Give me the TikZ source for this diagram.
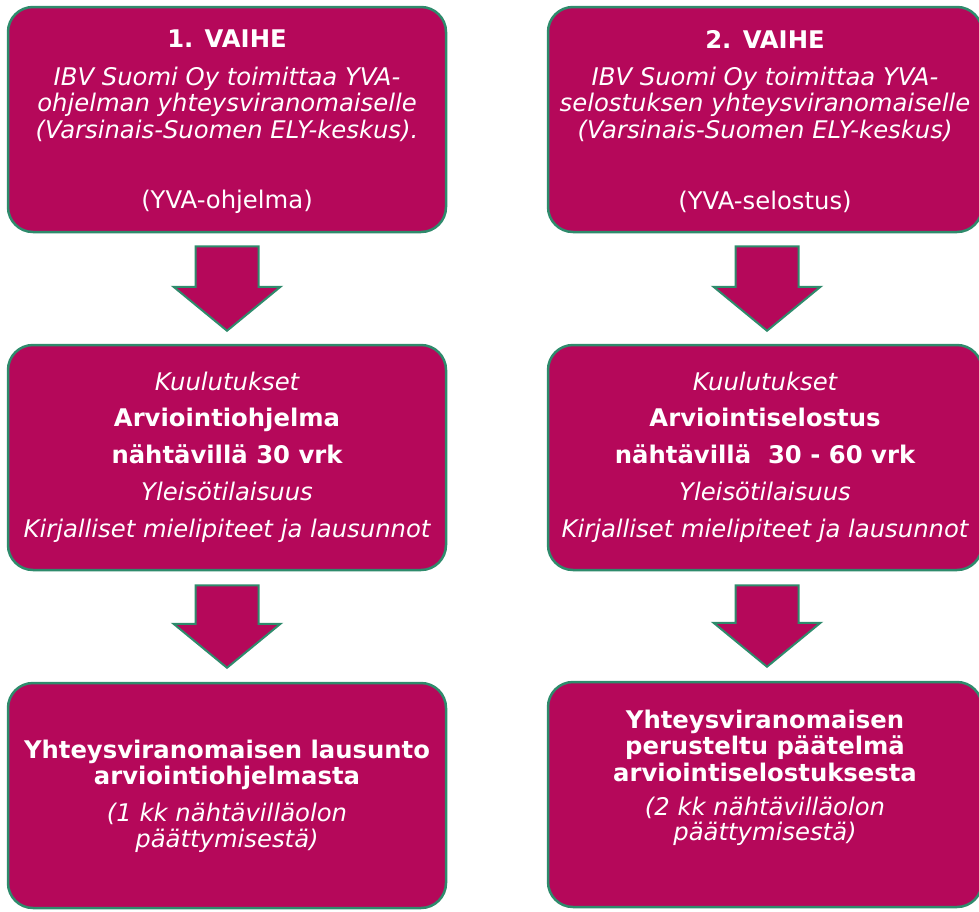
\documentclass[tikz,border=0pt]{standalone}
\usepackage{fontspec}
\setmainfont{DejaVu Sans}
\usetikzlibrary{calc}
\definecolor{boxfill}{HTML}{B5085A}
\definecolor{boxline}{HTML}{2E8B6C}
\newcommand{\blkarrow}[2]{%
  \draw[blockarrow] ($(#1)+(-31.5,0)$) -- ($(#1)+(31.5,0)$) -- ($(#2)+(31.5,-44)$) -- ($(#2)+(53.5,-44)$) -- (#2) -- ($(#2)+(-53.5,-44)$) -- ($(#2)+(-31.5,-44)$) -- cycle;}
\begin{document}
\begin{tikzpicture}[x=1pt,y=-1pt,
  box/.style={draw=boxline, line width=2.5pt, fill=boxfill, rounded corners=25pt, inner sep=0pt, minimum height=225pt},
  txt/.style={text=white, align=center, font=\fontsize{24.3}{26.5}\selectfont, inner sep=0pt},
  midtxt/.style={text=white, align=center, font=\fontsize{24.3}{36.8}\selectfont, inner sep=0pt},
  blockarrow/.style={draw=boxline, line width=2pt, fill=boxfill, line join=miter}]
\useasboundingbox (0,0) rectangle (979,911);
% boxes
\node[box, minimum width=438pt] (p1) at (227,119.5) {};
\node[box, minimum width=434pt] (p2) at (765,119.5) {};
\node[box, minimum width=438pt] (m1) at (227,457.5) {};
\node[box, minimum width=434pt] (m2) at (765,457.5) {};
\node[box, minimum width=438pt] (b1) at (227,795.5) {};
\node[box, minimum width=434pt] (b2) at (765,794.5) {};
% arrows
\coordinate (a1s) at ($(p1.south)+(0,13)$);
\coordinate (a1e) at ($(m1.north)+(0,-13)$);
\coordinate (a2s) at ($(m1.south)+(0,14)$);
\coordinate (a2e) at ($(b1.north)+(0,-14)$);
\coordinate (a3s) at ($(p2.south)+(2,13)$);
\coordinate (a3e) at ($(m2.north)+(2,-13)$);
\coordinate (a4s) at ($(m2.south)+(2,14)$);
\coordinate (a4e) at ($(b2.north)+(2,-14)$);
\blkarrow{a1s}{a1e}
\blkarrow{a2s}{a2e}
\blkarrow{a3s}{a3e}
\blkarrow{a4s}{a4e}
% texts top
\node[txt, font=\fontsize{24.3}{26.5}\selectfont\bfseries] (t1a) at (227,39) {1. VAIHE};
\node[txt] (t1b) at (227,104) {\itshape IBV Suomi Oy toimittaa YVA-\\\itshape ohjelman yhteysviranomaiselle\\\itshape (Varsinais-Suomen ELY-keskus).};
\node[txt] (t1c) at (227,202) {(YVA-ohjelma)};
\node[txt, font=\fontsize{24.3}{26.5}\selectfont\bfseries] (t2a) at (765,39) {2. VAIHE};
\node[txt] (t2b) at (765,104) {\itshape IBV Suomi Oy toimittaa YVA-\\\itshape selostuksen yhteysviranomaiselle\\\itshape (Varsinais-Suomen ELY-keskus)};
\node[txt] (t2c) at (765,202) {(YVA-selostus)};
% texts middle
\node[midtxt] (t3) at (227,457) {\itshape Kuulutukset\\\bfseries Arviointiohjelma\\\bfseries nähtävillä 30 vrk\\\itshape Yleisötilaisuus\\\itshape Kirjalliset mielipiteet ja lausunnot};
\node[midtxt] (t4) at (765,457) {\itshape Kuulutukset\\\bfseries Arviointiselostus\\\bfseries nähtävillä~~30 - 60 vrk\\\itshape Yleisötilaisuus\\\itshape Kirjalliset mielipiteet ja lausunnot};
% texts bottom
\node[txt, font=\fontsize{24.3}{26}\selectfont\bfseries] (t5a) at (227,765) {Yhteysviranomaisen lausunto\\arviointiohjelmasta};
\node[txt, font=\fontsize{24.3}{25.5}\selectfont\itshape] (t5b) at (227,828) {(1 kk nähtävilläolon\\päättymisestä)};
\node[txt, font=\fontsize{24.3}{26.5}\selectfont\bfseries] (t6a) at (765,745.5) {Yhteysviranomaisen\\perusteltu päätelmä\\arviointiselostuksesta};
\node[txt, font=\fontsize{24.3}{25.5}\selectfont\itshape] (t6b) at (765,821.5) {(2 kk nähtävilläolon\\päättymisestä)};
\end{tikzpicture}
\end{document}
